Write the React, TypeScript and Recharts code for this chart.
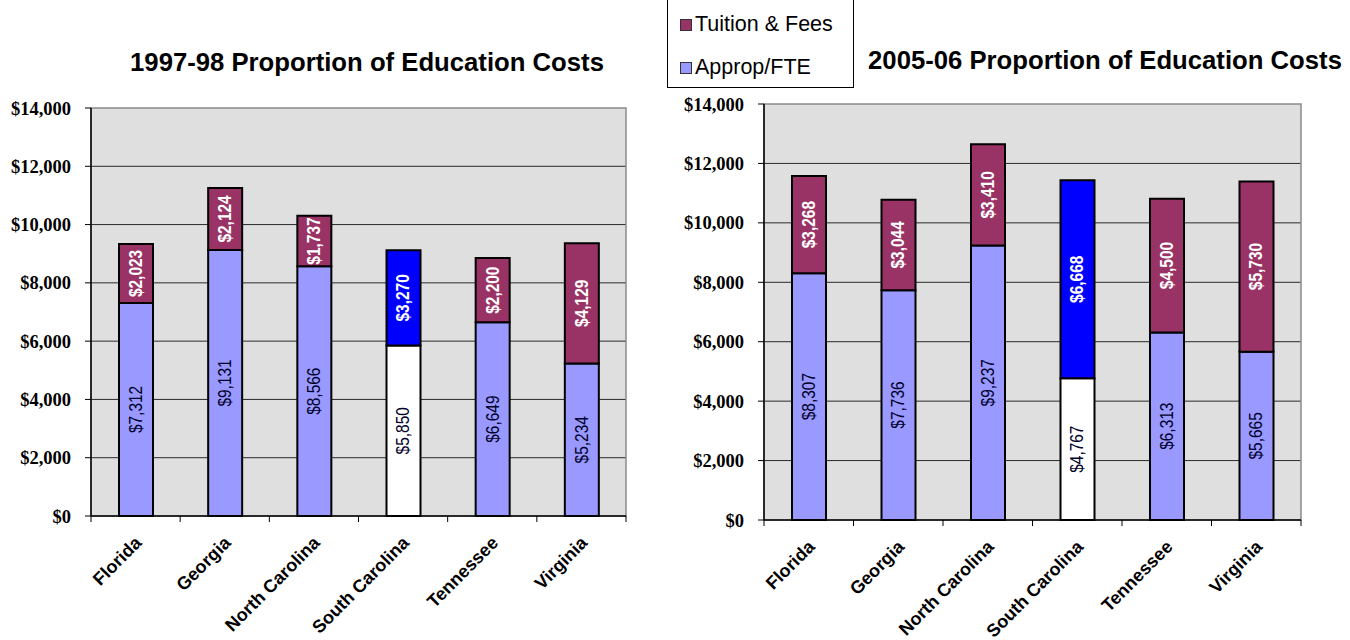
import React from "react";
import {
  BarChart,
  Bar,
  XAxis,
  YAxis,
  CartesianGrid,
  Cell,
  LabelList,
  ReferenceArea,
} from "recharts";

// States compared in both panels
const states = ["Florida", "Georgia", "North Carolina", "South Carolina", "Tennessee", "Virginia"];

// 1997-98 cost per FTE
const approp9798 = [7312, 9131, 8566, 5850, 6649, 5234];
const tuition9798 = [2023, 2124, 1737, 3270, 2200, 4129];

// 2005-06 cost per FTE
const approp0506 = [8307, 7736, 9237, 4767, 6313, 5665];
const tuition0506 = [3268, 3044, 3410, 6668, 4500, 5730];

const yTicks = [0, 2000, 4000, 6000, 8000, 10000, 12000, 14000];
const gridValues = [2000, 4000, 6000, 8000, 10000, 12000];

const highlightState = "South Carolina";

const APPROP_COLOR = "#9999FF";
const TUITION_COLOR = "#993366";
const HIGHLIGHT_APPROP = "#FFFFFF";
const HIGHLIGHT_TUITION = "#0000FF";
const PLOT_BG = "#DFDFDF";

const buildRows = (approp: number[], tuition: number[]) =>
  states.map((state, i) => ({ state, approp: approp[i], tuition: tuition[i] }));

const money = (v: number) => "$" + v.toLocaleString("en-US");

const SANS = "'Liberation Sans', Arial, sans-serif";

// Vertical value label, squeezed along its length to read as a narrow face
const makeValueLabel = (color: string, weight: string) => (props: any) => {
  const { x, y, width, height, value } = props;
  const cx = Number(x) + Number(width) / 2;
  const cy = Number(y) + Number(height) / 2;
  return (
    <text
      x={0}
      y={0}
      transform={`translate(${cx}, ${cy}) rotate(-90) scale(0.86, 1)`}
      textAnchor="middle"
      dominantBaseline="central"
      fill={color}
      fontFamily={SANS}
      fontSize={18}
      fontWeight={weight}
    >
      {money(Number(value))}
    </text>
  );
};

const makeCategoryTick = (band: number) => (props: any) => {
  const { x, y, payload, index } = props;
  const left = x - band / 2;
  const right = x + band / 2;
  const ax = x + 7;
  const ay = y + 28;
  return (
    <g>
      <line x1={left} y1={y} x2={left} y2={y + 6} stroke="#000" strokeWidth={1} />
      {index === states.length - 1 && (
        <line x1={right} y1={y} x2={right} y2={y + 6} stroke="#000" strokeWidth={1} />
      )}
      <text
        x={ax}
        y={ay}
        transform={`rotate(-45, ${ax}, ${ay})`}
        textAnchor="end"
        fontFamily={SANS}
        fontWeight="bold"
        fontSize={18}
        fill="#000"
      >
        {payload.value}
      </text>
    </g>
  );
};

type PanelProps = {
  approp: number[];
  tuition: number[];
  width: number;
  top: number;
  bottom: number;
  axisWidth: number;
  right: number;
};

function CostPanel({ approp, tuition, width, top, bottom, axisWidth, right }: PanelProps) {
  const rows = buildRows(approp, tuition);
  const band = (width - axisWidth - right) / states.length;
  return (
    <BarChart
      width={width}
      height={640}
      data={rows}
      margin={{ top, right, left: 0, bottom: 640 - bottom - 110 }}
      barCategoryGap={0}
    >
      <CartesianGrid
        vertical={false}
        horizontalValues={gridValues}
        stroke="#2a2a2a"
        strokeWidth={1}
        fill={PLOT_BG}
        fillOpacity={1}
      />
      <ReferenceArea y1={0} y2={14000} fill="none" stroke="#8a8a8a" strokeWidth={1.5} />
      <XAxis
        dataKey="state"
        height={110}
        interval={0}
        tickLine={false}
        tickSize={0}
        tickMargin={0}
        axisLine={{ stroke: "#000", strokeWidth: 1.5 }}
        tick={makeCategoryTick(band)}
      />
      <YAxis
        width={axisWidth}
        domain={[0, 14000]}
        ticks={yTicks}
        interval={0}
        tickFormatter={money}
        tickSize={6}
        tickMargin={14}
        axisLine={{ stroke: "#000", strokeWidth: 1.5 }}
        tickLine={{ stroke: "#000" }}
        tick={{
          fill: "#000",
          fontFamily: "'Liberation Serif', 'Times New Roman', serif",
          fontWeight: "bold",
          fontSize: 18.5,
        }}
      />
      <Bar dataKey="approp" stackId="cost" barSize={34} stroke="#000" strokeWidth={2} isAnimationActive={false}>
        {rows.map((r) => (
          <Cell key={r.state} fill={r.state === highlightState ? HIGHLIGHT_APPROP : APPROP_COLOR} />
        ))}
        <LabelList dataKey="approp" content={makeValueLabel("#00002a", "normal")} />
      </Bar>
      <Bar dataKey="tuition" stackId="cost" barSize={34} stroke="#000" strokeWidth={2} isAnimationActive={false}>
        {rows.map((r) => (
          <Cell key={r.state} fill={r.state === highlightState ? HIGHLIGHT_TUITION : TUITION_COLOR} />
        ))}
        <LabelList dataKey="tuition" content={makeValueLabel("#FFFFFF", "bold")} />
      </Bar>
    </BarChart>
  );
}

const titleStyle: React.CSSProperties = {
  position: "absolute",
  fontFamily: SANS,
  fontWeight: "bold",
  fontSize: 25.7,
  whiteSpace: "nowrap",
  transform: "translateX(-50%)",
  lineHeight: "30px",
};

const swatch = (color: string): React.CSSProperties => ({
  display: "inline-block",
  width: 10,
  height: 10,
  background: color,
  border: "1px solid #333",
  marginRight: 3,
  verticalAlign: "middle",
});

const legendItem: React.CSSProperties = {
  position: "absolute",
  left: 12,
  fontFamily: SANS,
  fontSize: 21.5,
  lineHeight: "24px",
  whiteSpace: "nowrap",
  color: "#000",
};

export default function App() {
  return (
    <div
      style={{
        position: "absolute",
        left: 0,
        top: 0,
        width: 1350,
        height: 640,
        background: "#fff",
        overflow: "hidden",
      }}
    >
      <div style={{ ...titleStyle, left: 367, top: 47 }}>1997-98 Proportion of Education Costs</div>
      <div style={{ ...titleStyle, left: 1105, top: 45 }}>2005-06 Proportion of Education Costs</div>

      <div style={{ position: "absolute", left: 0, top: 0 }}>
        <CostPanel
          approp={approp9798}
          tuition={tuition9798}
          width={660}
          top={108}
          bottom={516}
          axisWidth={91}
          right={34}
        />
      </div>
      <div style={{ position: "absolute", left: 670, top: 0 }}>
        <CostPanel
          approp={approp0506}
          tuition={tuition0506}
          width={680}
          top={104}
          bottom={520}
          axisWidth={94}
          right={49}
        />
      </div>

      <div
        style={{
          position: "absolute",
          left: 667,
          top: -2,
          width: 185,
          height: 88,
          border: "1px solid #000",
          background: "#fff",
        }}
      >
        <div style={{ ...legendItem, top: 13 }}>
          <span style={swatch(TUITION_COLOR)} />
          Tuition &amp; Fees
        </div>
        <div style={{ ...legendItem, top: 56 }}>
          <span style={swatch(APPROP_COLOR)} />
          Approp/FTE
        </div>
      </div>
    </div>
  );
}
